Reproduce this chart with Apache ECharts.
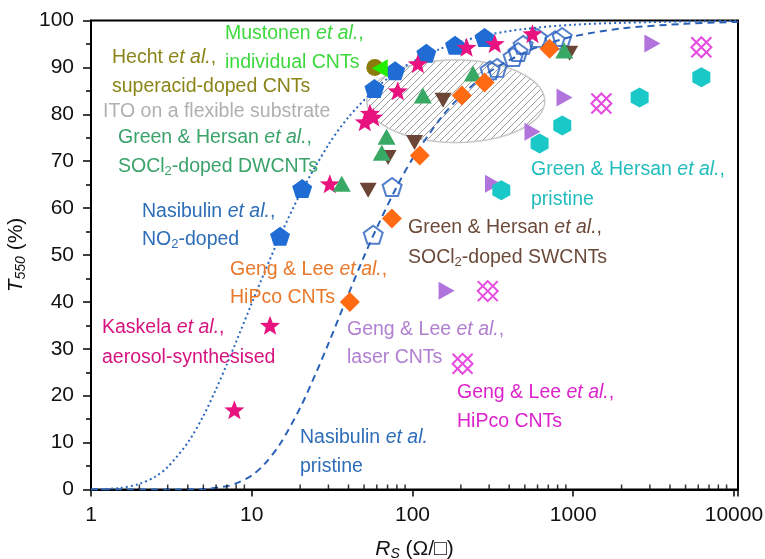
<!DOCTYPE html>
<html>
<head>
<meta charset="utf-8">
<script src="https://cdn.jsdelivr.net/npm/echarts@6/dist/echarts.min.js"></script>
<style>
  html, body { margin: 0; padding: 0; background: #fff; }
  #chart { width: 765px; height: 559px; }
</style>
</head>
<body>
<div id="chart"></div>
<script>
// Sheet resistance R_S (Ω/□) vs. transmittance at 550 nm (%)
const nasibulinNO2 = [[15, 54], [20.6, 64.2], [58, 85.5], [78, 89.3], [122, 93], [184, 94.7], [281, 96.4]];
const nasibulinPristine = [[57, 54.3], [74.7, 64.5], [304, 89.4], [336, 89.9], [423, 92.2], [454, 93.3], [488, 94.8], [596, 96.3], [771, 95.8], [853, 96.5]];
const kaskela = [[7.8, 17], [13, 35], [30.6, 65.2], [50.5, 78.4], [54.4, 80.2], [57, 79.4], [81, 85], [108, 90.8], [217, 94.3], [325, 95.1], [558, 97.2]];
const socl2SWCNT = [[53, 63.8], [70.5, 70.8], [103, 74], [155, 83], [950, 93]];
const socl2DWCNT = [[36.3, 65.2], [64.4, 71.8], [69, 75.2], [116, 84], [238, 88.7], [880, 93.6]];
const gengHiPcoOrange = [[40.8, 40], [74.5, 57.8], [111, 71.2], [203, 84], [281, 86.8], [713, 94]];
const gengLaser = [[163, 42.4], [317, 65.2], [558, 76.3], [883, 83.6], [3110, 95.1]];
const greenPristine = [[357, 63.8], [618, 73.8], [855, 77.6], [2590, 83.6], [6270, 87.9]];
const gengHiPcoMagenta = [[205, 26.8], [294, 42.3], [1497, 82.3], [6270, 94.3]];
const hechtSuperacid = [[58.3, 90]];
const mustonenIndividual = [[62.6, 89.8]];

// Fitted curves read along their paths
const fitNO2 = [[1, 0], [1.5, 0.3], [2, 1.2], [2.5, 2.7], [3, 4.8], [4, 10], [5, 15.7], [6, 21.4], [7, 26.7], [8, 31.5], [10, 39.7], [12, 46.3], [15, 54], [20, 63], [30, 73.5], [40, 79.4], [60, 85.7], [80, 89.1], [100, 91.2], [150, 94], [200, 95.5], [300, 97], [500, 98.2], [1000, 99.1], [2000, 99.5], [5000, 99.8], [10600, 99.9]];
const fitPristine = [[1, 0], [3, 0], [5, 0.1], [7, 0.7], [8, 1.3], [10, 3], [12, 5.4], [15, 9.7], [20, 17.4], [25, 24.7], [30, 31.1], [40, 41.7], [50, 49.7], [60, 55.8], [80, 64.6], [100, 70.5], [150, 79.2], [200, 83.9], [300, 89], [500, 93.2], [700, 95.1], [1000, 96.6], [2000, 98.3], [5000, 99.3], [10600, 99.7]];

// ITO on a flexible substrate: R_S span and T span of the shaded region
const itoRange = { rs: [52, 665], t: [74, 91.6] };

// Axis ticks
const xMajorTicks = [1, 10, 100, 1000, 10000];
const xMinorTicks = [2, 3, 4, 5, 6, 7, 8, 9, 20, 30, 40, 50, 60, 70, 80, 90, 200, 300, 400, 500, 600, 700, 800, 900, 2000, 3000, 4000, 5000, 6000, 7000, 8000, 9000];

const FONT = 'Arial, "Liberation Sans", Helvetica, sans-serif';

// Symbol outlines
const PENTAGON = 'path://M0,-10 L9.51,-3.09 L5.88,8.09 L-5.88,8.09 L-9.51,-3.09 Z';
const STAR = 'path://M0,-10 L2.47,-3.4 L9.51,-3.09 L3.99,1.3 L5.88,8.09 L0,4.2 L-5.88,8.09 L-3.99,1.3 L-9.51,-3.09 L-2.47,-3.4 Z';
const HEXAGON = 'path://M0,-10 L8.66,-5 L8.66,5 L0,10 L-8.66,5 L-8.66,-5 Z';
const LATTICE = 'path://M-10,-10 L10,10 M-10,10 L10,-10 M0,-10 L10,0 L0,10 L-10,0 Z';

// Diagonal hatch fill
function makeHatch() {
  const s = 7;
  const c = document.createElement('canvas');
  c.width = s; c.height = s;
  const g = c.getContext('2d');
  g.fillStyle = '#ffffff';
  g.fillRect(0, 0, s, s);
  g.strokeStyle = '#9c9c9c';
  g.lineWidth = 1;
  g.beginPath();
  g.moveTo(-1, s + 1); g.lineTo(s + 1, -1);
  g.moveTo(-1, 1); g.lineTo(1, -1);
  g.moveTo(s - 1, s + 1); g.lineTo(s + 1, s - 1);
  g.stroke();
  return c;
}
const hatch = { image: makeHatch(), repeat: 'repeat' };

function rich(color, size) {
  return {
    i: { fontFamily: FONT, fontSize: size, fontStyle: 'italic', fill: color },
    s: { fontFamily: FONT, fontSize: Math.round(size * 0.65), fill: color, padding: [9, 0, 0, 0] }
  };
}

// Annotation text, each entry one line
const notes = [
  { t: 'Mustonen {i|et al.},', c: '#3dd83d', x: 225, y: 34 },
  { t: 'individual CNTs', c: '#3dd83d', x: 225, y: 63 },
  { t: 'Hecht {i|et al.},', c: '#8a8419', x: 112, y: 58 },
  { t: 'superacid-doped CNTs', c: '#8a8419', x: 112, y: 87 },
  { t: 'ITO on a flexible substrate', c: '#b0b0b0', x: 103, y: 112 },
  { t: 'Green & Hersan {i|et al.},', c: '#3aa36a', x: 118, y: 138 },
  { t: 'SOCl{s|2}-doped DWCNTs', c: '#3aa36a', x: 118, y: 167 },
  { t: 'Nasibulin {i|et al.},', c: '#2e6db8', x: 142, y: 212 },
  { t: 'NO{s|2}-doped', c: '#2e6db8', x: 142, y: 240 },
  { t: 'Geng & Lee {i|et al.},', c: '#e8782a', x: 230, y: 270 },
  { t: 'HiPco CNTs', c: '#e8782a', x: 230, y: 298 },
  { t: 'Kaskela {i|et al.},', c: '#d6137f', x: 102, y: 328 },
  { t: 'aerosol-synthesised', c: '#d6137f', x: 102, y: 358 },
  { t: 'Nasibulin {i|et al.}', c: '#2e6db8', x: 300, y: 438 },
  { t: 'pristine', c: '#2e6db8', x: 300, y: 467 },
  { t: 'Geng & Lee {i|et al.},', c: '#b07fd0', x: 347, y: 330 },
  { t: 'laser CNTs', c: '#b07fd0', x: 347, y: 358 },
  { t: 'Geng & Lee {i|et al.},', c: '#dd22cc', x: 457, y: 393 },
  { t: 'HiPco CNTs', c: '#dd22cc', x: 457, y: 422 },
  { t: 'Green & Hersan {i|et al.},', c: '#6b4a3a', x: 408, y: 228 },
  { t: 'SOCl{s|2}-doped SWCNTs', c: '#6b4a3a', x: 408, y: 258 },
  { t: 'Green & Hersan {i|et al.},', c: '#22bcbc', x: 531, y: 170 },
  { t: 'pristine', c: '#22bcbc', x: 531, y: 200 }
];
const NOTE_SIZE = 19.5;

function scatter(name, data, symbol, size, color, extra) {
  return Object.assign({
    name, type: 'scatter', data, symbol, symbolSize: size,
    itemStyle: { color, opacity: 1 },
    emphasis: { disabled: true }, silent: true, clip: false
  }, extra || {});
}

const chart = echarts.init(document.getElementById('chart'), null, { renderer: 'canvas' });

const axisNameRich = {
  it: { fontFamily: FONT, fontSize: 21, fontStyle: 'italic', color: '#111' },
  sub: { fontFamily: FONT, fontSize: 14, fontStyle: 'italic', color: '#111', padding: [10, 0, 0, 0] },
  n: { fontFamily: FONT, fontSize: 21, color: '#111' }
};

chart.setOption({
  animation: false,
  textStyle: { fontFamily: FONT },
  grid: {
    left: 91, right: 27, top: 20.5, bottom: 69.5,
    containLabel: false, outerBoundsMode: 'none',
    show: true, borderColor: '#000', borderWidth: 2, backgroundColor: 'transparent'
  },
  xAxis: {
    type: 'log', logBase: 10, min: 1, max: 10600,
    name: '{it|R}{sub|S}{n| (Ω/□)}', nameLocation: 'middle', nameGap: 48,
    nameTextStyle: { rich: axisNameRich },
    axisLine: { lineStyle: { color: '#000', width: 2 } },
    axisTick: { show: true, length: 7, lineStyle: { color: '#000', width: 1.5 } },
    axisLabel: {
      fontSize: 21, color: '#111', margin: 15,
      formatter: v => (xMajorTicks.indexOf(Math.round(v)) >= 0 && Math.abs(v - Math.round(v)) < 1e-6) ? String(Math.round(v)) : ''
    },
    splitLine: { show: false }
  },
  yAxis: {
    type: 'value', min: 0, max: 100, interval: 10,
    name: '{it|T}{sub|550}{n| (%)}', nameLocation: 'middle', nameGap: 54, nameRotate: 90,
    nameTextStyle: { rich: axisNameRich },
    axisLine: { show: true, lineStyle: { color: '#000', width: 2 } },
    axisTick: { show: true, length: 8, lineStyle: { color: '#000', width: 1.5 } },
    minorTick: { show: true, splitNumber: 2, length: 5, lineStyle: { color: '#000', width: 1.5 } },
    axisLabel: { fontSize: 21, color: '#111', margin: 17 },
    splitLine: { show: false }
  },
  graphic: notes.map(n => ({
    type: 'text', x: n.x, y: n.y, silent: true, z: 50,
    style: {
      text: n.t, fill: n.c, fontFamily: FONT, fontSize: NOTE_SIZE,
      verticalAlign: 'middle', align: 'left', rich: rich(n.c, NOTE_SIZE)
    }
  })),
  series: [
    {
      name: 'ITO', type: 'custom', silent: true, z: 1,
      data: [[itoRange.rs[0], itoRange.t[0], itoRange.rs[1], itoRange.t[1]]],
      encode: { x: [0, 2], y: [1, 3] },
      renderItem: function (params, api) {
        const a = api.coord([api.value(0), api.value(1)]);
        const b = api.coord([api.value(2), api.value(3)]);
        const cx = (a[0] + b[0]) / 2, cy = (a[1] + b[1]) / 2;
        const rx = Math.abs(b[0] - a[0]) / 2, ry = Math.abs(b[1] - a[1]) / 2;
        const pts = [];
        for (let i = 0; i < 120; i++) {
          const th = i / 120 * Math.PI * 2;
          pts.push([cx + rx * Math.cos(th), cy + ry * Math.sin(th)]);
        }
        return { type: 'polygon', shape: { points: pts }, style: { fill: hatch, stroke: '#c6c6c6', lineWidth: 1.5 } };
      }
    },
    {
      name: 'fit NO2', type: 'line', data: fitNO2, smooth: 0.3, showSymbol: false, symbol: 'none', silent: true, z: 2,
      lineStyle: { color: '#2a67c0', width: 2, type: [2, 3] }
    },
    {
      name: 'fit pristine', type: 'line', data: fitPristine, smooth: 0.3, showSymbol: false, symbol: 'none', silent: true, z: 2,
      lineStyle: { color: '#2a62b8', width: 2, type: [7, 5] }
    },
    {
      name: 'minor ticks', type: 'scatter', data: xMinorTicks.map(v => [v, 0]), symbol: 'rect', symbolSize: [1.5, 5], symbolOffset: [0, -2.5],
      itemStyle: { color: '#000' }, silent: true, clip: false, z: 3
    },
    scatter('Nasibulin pristine', nasibulinPristine, PENTAGON, [19, 18], 'rgba(0,0,0,0)', { itemStyle: { color: 'rgba(255,255,255,0)', borderColor: '#2860c0', borderWidth: 2 }, z: 3 }),
    scatter('Nasibulin NO2', nasibulinNO2, PENTAGON, [20, 19], '#1f6cd4', { z: 4 }),
    scatter('Kaskela', kaskela, STAR, [20, 19], '#e8137f', { z: 5 }),
    scatter('SWCNT SOCl2', socl2SWCNT, 'triangle', [17, 15], '#6b4536', { symbolRotate: 180, z: 5 }),
    scatter('DWCNT SOCl2', socl2DWCNT, 'triangle', [18, 16], '#38a865', { z: 6 }),
    scatter('Geng HiPco', gengHiPcoOrange, 'diamond', [20, 20], '#ff6a13', { z: 7 }),
    scatter('Geng laser', gengLaser, 'triangle', [18, 16], '#b173dc', { symbolRotate: -90, z: 7 }),
    scatter('Green pristine', greenPristine, HEXAGON, [18, 20], '#1bc8c8', { z: 8 }),
    scatter('Geng HiPco 2', gengHiPcoMagenta, LATTICE, [20, 20], '#e01ed8', { itemStyle: { color: 'rgba(0,0,0,0)', borderColor: '#e01ed8', borderWidth: 2 }, z: 8 }),
    scatter('Hecht', hechtSuperacid, 'circle', 17, '#8b7a0c', { z: 9 }),
    scatter('Mustonen', mustonenIndividual, 'triangle', [18, 16], '#22ee00', { symbolRotate: 90, z: 10 })
  ]
});
</script>
</body>
</html>
